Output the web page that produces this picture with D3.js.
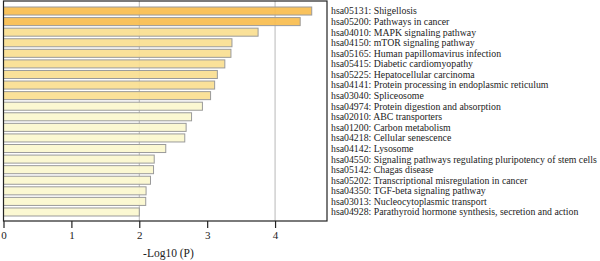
<!DOCTYPE html>
<html><head><meta charset="utf-8">
<script src="https://cdn.jsdelivr.net/npm/d3@7"></script>
<style>body{margin:0;background:#fff}svg{display:block}</style>
</head><body>
<svg id="c" width="600" height="261"></svg>
<script>
const terms = ["hsa05131: Shigellosis","hsa05200: Pathways in cancer","hsa04010: MAPK signaling pathway","hsa04150: mTOR signaling pathway","hsa05165: Human papillomavirus infection","hsa05415: Diabetic cardiomyopathy","hsa05225: Hepatocellular carcinoma","hsa04141: Protein processing in endoplasmic reticulum","hsa03040: Spliceosome","hsa04974: Protein digestion and absorption","hsa02010: ABC transporters","hsa01200: Carbon metabolism","hsa04218: Cellular senescence","hsa04142: Lysosome","hsa04550: Signaling pathways regulating pluripotency of stem cells","hsa05142: Chagas disease","hsa05202: Transcriptional misregulation in cancer","hsa04350: TGF-beta signaling pathway","hsa03013: Nucleocytoplasmic transport","hsa04928: Parathyroid hormone synthesis, secretion and action"];
const logP = [4.54,4.37,3.75,3.365,3.35,3.26,3.15,3.11,3.05,2.93,2.77,2.69,2.67,2.39,2.22,2.21,2.165,2.10,2.095,2.00];
const colorGroup = [0,0,1,1,1,1,1,1,1,2,2,2,2,2,2,2,2,2,2,2];
const palette = ["#F8BD4E","#FADE90","#FBF7CE"];
const xTicks = [0,1,2,3,4];
const gridTicks = [2,4];

const svg = d3.select("#c");
const L = 3.5, R = 327, T = 1, B = 221;
const x = d3.scaleLinear().domain([0, 4.765]).range([L, R]);
const y = d3.scaleBand().domain(terms).range([T+0.5, B+0.5]).paddingInner(0.24).paddingOuter(0.52);

svg.append("g").selectAll("line").data(gridTicks).join("line")
  .attr("x1", d => x(d)).attr("x2", d => x(d)).attr("y1", T).attr("y2", B)
  .attr("stroke", "#b8b8b8").attr("stroke-width", 1);

svg.append("g").selectAll("rect").data(terms).join("rect")
  .attr("x", x(0)).attr("y", d => y(d))
  .attr("width", (d,i) => x(logP[i]) - x(0)).attr("height", y.bandwidth())
  .attr("fill", (d,i) => palette[colorGroup[i]]).attr("fill-opacity", 0.92)
  .attr("stroke", "#9a9a9a").attr("stroke-width", 1);

svg.append("rect").attr("x", L).attr("y", T).attr("width", R - L).attr("height", B - T)
  .attr("fill", "none").attr("stroke", "#222").attr("stroke-width", 1.2);

const ax = svg.append("g").attr("transform", `translate(0,${B})`)
  .call(d3.axisBottom(x).tickValues(xTicks).tickFormat(d3.format("d")).tickSize(7).tickPadding(3));
ax.select(".domain").remove();
ax.selectAll("line").attr("stroke", "#222").attr("stroke-width", 1.2);
ax.selectAll("text").attr("font-family", "Liberation Serif, serif").attr("font-size", 11).attr("fill", "#222");

svg.append("text").attr("x", x(2.43)).attr("y", 257).attr("text-anchor", "middle")
  .attr("font-family", "Liberation Serif, serif").attr("font-size", 11.5).attr("fill", "#222")
  .text("-Log10 (P)");

svg.append("g").selectAll("text").data(terms).join("text")
  .attr("x", 331).attr("y", d => y(d) + y.bandwidth()/2).attr("dy", "0.35em")
  .attr("font-family", "Liberation Serif, serif").attr("font-size", 9.8).attr("fill", "#222")
  .text(d => d);
</script>
</body></html>
